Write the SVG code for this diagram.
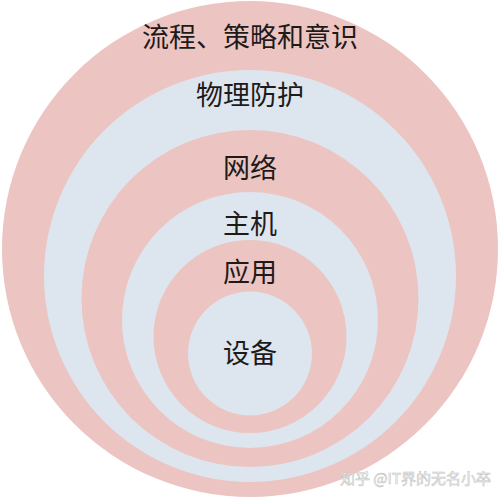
<svg xmlns="http://www.w3.org/2000/svg" width="500" height="500" viewBox="0 0 500 500">
<style>
.pink{fill:#ECC4C1}
.blue{fill:#DDE5EE}
.lbl{font-family:"Noto Sans CJK SC","Noto Sans",sans-serif;font-size:27px;fill:#1e1a1a;text-anchor:middle}
.wm{font-family:"Noto Sans CJK SC","Noto Sans",sans-serif;font-size:15px;fill:#ffffff;stroke:#c4c4c4;stroke-width:0.6px}
</style>
<rect width="500" height="500" fill="#ffffff"/>
<g id="layer-process">
<circle class="pink" cx="250" cy="249" r="248"/>
<text class="lbl" x="250" y="47">流程、策略和意识</text>
</g>
<g id="layer-physical">
<circle class="blue" cx="250" cy="276" r="206"/>
<text class="lbl" x="250" y="105">物理防护</text>
</g>
<g id="layer-network">
<circle class="pink" cx="250" cy="298.5" r="168.5"/>
<text class="lbl" x="250" y="178">网络</text>
</g>
<g id="layer-host">
<circle class="blue" cx="250" cy="320" r="128"/>
<text class="lbl" x="250" y="234">主机</text>
</g>
<g id="layer-application">
<circle class="pink" cx="250" cy="336.5" r="96.5"/>
<text class="lbl" x="250" y="282">应用</text>
</g>
<g id="layer-device">
<circle class="blue" cx="250" cy="353.5" r="62"/>
<text class="lbl" x="250" y="363">设备</text>
</g>
<g id="connectors"/>
<text class="wm" x="340" y="484">知乎 @IT界的无名小卒</text>
</svg>
